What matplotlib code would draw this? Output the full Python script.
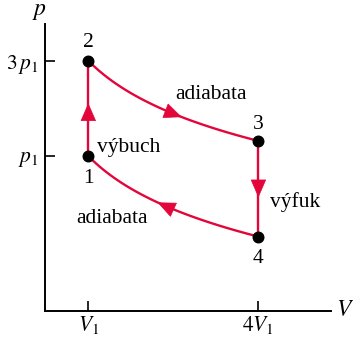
import numpy as np
import matplotlib.pyplot as plt

plt.rcParams['font.family'] = ['Liberation Serif', 'DejaVu Serif']
plt.rcParams['mathtext.fontset'] = 'stix'

RED = '#E2063A'

# stavy cyklu (V v násobcích V1, p v násobcích p1)
state_names = ['1', '2', '3', '4']
state_V = [1.0, 1.0, 4.0, 4.0]
state_p = [1.0, 3.0, 1.19, 0.395]

# umístění šipek na jednotlivých dějích
arrow_12_p = 1.84
arrow_23_V = 2.65
arrow_34_p = 0.62
arrow_41_V = 2.22

x_ticks = [1.0, 4.0]
x_ticklabels = [r'$V_1$', r'$4V_1$']
y_ticks = [1.0, 3.0]
y_ticklabels = [r'$p_1$', r'$3\,p_1$']


def adiabat(Va, pa, Vb, pb, n=100):
    # p V^kappa = konst mezi dvěma stavy
    kappa = np.log(pa / pb) / np.log(Vb / Va)
    V = np.linspace(Va, Vb, n)
    return V, pa * (Va / V) ** kappa, kappa


def arrow_at(ax, x0, y0, x1, y1):
    ax.annotate('', xy=(x1, y1), xytext=(x0, y0),
                arrowprops=dict(arrowstyle='-|>,head_length=0.6,head_width=0.26',
                                color=RED, lw=0.5, shrinkA=0, shrinkB=0,
                                mutation_scale=20))


fig = plt.figure(figsize=(3.53, 3.38), dpi=100)
ax = fig.add_axes([45 / 353, 27 / 338, 286 / 353, 287 / 338])
ax.set_yscale('log')
ax.set_xlim(0.236, 5.28)
ax.set_ylim(0.1676, 4.58)

V1, V2, V3, V4 = state_V
p1, p2, p3, p4 = state_p

# izochory
ax.plot([V1, V2], [p1, p2], color=RED, lw=1.7, solid_capstyle='butt', zorder=2)
ax.plot([V3, V4], [p3, p4], color=RED, lw=1.7, solid_capstyle='butt', zorder=2)
# adiabaty
Va, pa, k23 = adiabat(V2, p2, V3, p3)
ax.plot(Va, pa, color=RED, lw=1.7, zorder=2)
Vb, pb, k14 = adiabat(V1, p1, V4, p4)
ax.plot(Vb, pb, color=RED, lw=1.7, zorder=2)

# šipky ve směru oběhu
eps = 0.002
arrow_at(ax, V1, arrow_12_p * (1 - eps), V1, arrow_12_p)
arrow_at(ax, V4, arrow_34_p * (1 + eps), V4, arrow_34_p)
arrow_at(ax, arrow_23_V - eps, p2 * (V2 / (arrow_23_V - eps)) ** k23,
         arrow_23_V, p2 * (V2 / arrow_23_V) ** k23)
arrow_at(ax, arrow_41_V + eps, p1 * (V1 / (arrow_41_V + eps)) ** k14,
         arrow_41_V, p1 * (V1 / arrow_41_V) ** k14)

# body stavů
ax.plot(state_V, state_p, 'o', color='black', ms=7.6, zorder=3, clip_on=False)
offsets = [(0, -16), (0, 13), (0, 12), (0, -16)]
for name, V, p, off in zip(state_names, state_V, state_p, offsets):
    ax.annotate(name, (V, p), xytext=off, textcoords='offset points',
                ha='center', va='center', fontsize=15.5)

# popisky dějů
ax.annotate('výbuch', (V1, p1), xytext=(6, 6), textcoords='offset points',
            ha='left', va='center', fontsize=15.5)
ax.annotate('výfuk', (V3, p3), xytext=(8, -44), textcoords='offset points',
            ha='left', va='center', fontsize=15.5)
ax.annotate('adiabata', (V2, p2), xytext=(88, -24), textcoords='offset points',
            ha='center', va='center', fontsize=15.5)
ax.annotate('adiabata', (V1, p1), xytext=(17, -45), textcoords='offset points',
            ha='center', va='center', fontsize=15.5)

# osy
for side in ['top', 'right']:
    ax.spines[side].set_visible(False)
for side in ['left', 'bottom']:
    ax.spines[side].set_linewidth(1.4)
ax.set_xticks(x_ticks, x_ticklabels)
ax.set_yticks(y_ticks, y_ticklabels)
ax.yaxis.set_minor_locator(plt.NullLocator())
ax.tick_params(direction='in', length=7.5, width=1.2, labelsize=15.5)
ax.tick_params(axis='x', pad=2.5)
ax.tick_params(axis='y', pad=5)

ax.text(-0.02, 1.045, r'$p$', transform=ax.transAxes, ha='center', va='center', fontsize=17)
ax.text(1.05, 0.0, r'$V$', transform=ax.transAxes, ha='center', va='center', fontsize=17)

fig.savefig('out.png', dpi=100, facecolor='white')
